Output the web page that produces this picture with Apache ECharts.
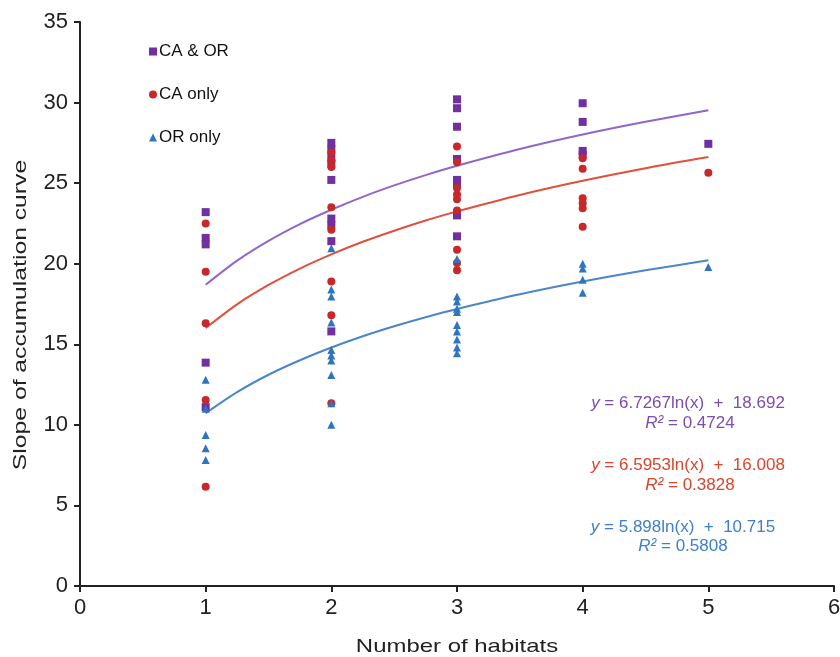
<!DOCTYPE html>
<html>
<head>
<meta charset="utf-8">
<script src="https://cdn.jsdelivr.net/npm/echarts@6/dist/echarts.min.js"></script>
<style>
  html, body { margin: 0; padding: 0; background: #fff; }
  #chart { width: 840px; height: 657px; }
</style>
</head>
<body>
<div id="chart"></div>
<script>
// scatter points, [habitats, slope]
const caOr = [
  [1, 23.2], [1, 21.6], [1, 21.2], [1, 13.86], [1, 11.1],
  [2, 27.5], [2, 27.1], [2, 26.6], [2, 26.2], [2, 25.2], [2, 22.8], [2, 22.4], [2, 21.4], [2, 15.8],
  [3, 30.2], [3, 29.65], [3, 28.5], [3, 26.5], [3, 25.2], [3, 24.9], [3, 23.0], [3, 21.7],
  [4, 29.96], [4, 28.8], [4, 27.0], [4, 26.75],
  [5, 27.44]
]
const caOnly = [
  [1, 22.5], [1, 19.5], [1, 16.3], [1, 11.55], [1, 6.16],
  [2, 26.9], [2, 26.4], [2, 26.0], [2, 23.5], [2, 22.1], [2, 18.9], [2, 16.8], [2, 11.34],
  [3, 27.27], [3, 26.3], [3, 24.7], [3, 24.3], [3, 24.0], [3, 23.3], [3, 20.86], [3, 20.05], [3, 19.6],
  [4, 26.55], [4, 25.9], [4, 24.07], [4, 23.75], [4, 23.44], [4, 22.3],
  [5, 25.65]
]
const orOnly = [
  [1, 12.8], [1, 11.0], [1, 9.37], [1, 8.55], [1, 7.82],
  [2, 20.96], [2, 18.4], [2, 17.96], [2, 16.35], [2, 14.65], [2, 14.3], [2, 14.0], [2, 13.1], [2, 11.34], [2, 10.0],
  [3, 20.3], [3, 17.96], [3, 17.65], [3, 17.2], [3, 17.0], [3, 16.2], [3, 15.8], [3, 15.3], [3, 14.8], [3, 14.45],
  [4, 20.0], [4, 19.7], [4, 19.0], [4, 18.2],
  [5, 19.8]
]

// trend curves
const trendX = [1, 1.25, 1.5, 1.75, 2, 2.25, 2.5, 2.75, 3, 3.5, 4, 4.5, 5]
const trendCaOr = [18.69, 20.19, 21.42, 22.46, 23.35, 24.15, 24.86, 25.50, 26.08, 27.12, 28.02, 28.81, 29.52]
const trendCaOnly = [16.01, 17.48, 18.68, 19.70, 20.58, 21.36, 22.05, 22.68, 23.25, 24.27, 25.15, 25.93, 26.62]
const trendOrOnly = [10.72, 12.03, 13.11, 14.01, 14.80, 15.50, 16.12, 16.68, 17.19, 18.10, 18.89, 19.59, 20.21]

const equations = [
  { eq: ' = 6.7267ln(x)  +  18.692', r2: ' = 0.4724', color: '#7b4db3' },
  { eq: ' = 6.5953ln(x)  +  16.008', r2: ' = 0.3828', color: '#d9452f' },
  { eq: ' = 5.898ln(x)  +  10.715', r2: ' = 0.5808', color: '#3f80cc' }
]

const xTitle = 'Number of habitats'
const yTitle = 'Slope of accumulation curve'

const font = 'Liberation Sans, Arial, sans-serif'
const chart = echarts.init(document.getElementById('chart'))

function trend(ys) {
  return trendX.map((x, i) => [x, ys[i]])
}

function line(label, rest, color, cx, cy) {
  return {
    type: 'text',
    x: cx,
    y: cy,
    style: {
      text: '{i|' + label + '}{n|' + rest + '}',
      align: 'center',
      verticalAlign: 'middle',
      rich: {
        i: { fontStyle: 'italic', fontSize: 17, fontFamily: font, fill: color },
        n: { fontSize: 17, fontFamily: font, fill: color }
      }
    }
  }
}

const eqGraphics = []
const eqCenters = [[688, 403, 690, 423], [688, 465, 690, 485], [683, 527, 683, 546]]
equations.forEach((item, k) => {
  const c = eqCenters[k]
  eqGraphics.push(line('y', item.eq, item.color, c[0], c[1]))
  eqGraphics.push(line('R²', item.r2, item.color, c[2], c[3]))
})

// axis titles are drawn wide in the original, so stretch them along the text
eqGraphics.push({
  type: 'text', x: 457, y: 647, scaleX: 1.26,
  style: { text: xTitle, fontSize: 19, fontFamily: font, fill: '#222', align: 'center', verticalAlign: 'middle' }
})
eqGraphics.push({
  type: 'text', x: 21, y: 315, rotation: Math.PI / 2, scaleX: 1.3,
  style: { text: yTitle, fontSize: 19, fontFamily: font, fill: '#222', align: 'center', verticalAlign: 'middle' }
})

chart.setOption({
  animation: false,
  grid: { left: 80, right: 6, top: 22, bottom: 71, outerBoundsMode: 'none' },
  legend: {
    data: ['CA & OR', 'CA only', 'OR only'],
    orient: 'vertical',
    left: 144,
    top: 38,
    itemGap: 26,
    itemWidth: 8,
    itemHeight: 8,
    textStyle: { fontSize: 17, fontFamily: font, color: '#111', padding: [0, 0, 0, -3] }
  },
  xAxis: {
    type: 'value',
    min: 0,
    max: 6,
    interval: 1,
    axisLine: { lineStyle: { color: '#222', width: 2 } },
    axisTick: { lineStyle: { color: '#222', width: 2 }, length: 6 },
    axisLabel: { fontSize: 22, fontFamily: font, color: '#222', margin: 11 },
    splitLine: { show: false }
  },
  yAxis: {
    type: 'value',
    min: 0,
    max: 35,
    interval: 5,
    axisLine: { show: true, lineStyle: { color: '#222', width: 2 } },
    axisTick: { show: true, lineStyle: { color: '#222', width: 2 }, length: 6 },
    axisLabel: { fontSize: 22, fontFamily: font, color: '#222', margin: 12 },
    splitLine: { show: false }
  },
  graphic: eqGraphics,
  series: [
    {
      name: 'trend CA & OR', type: 'line', data: trend(trendCaOr), smooth: 0.3,
      showSymbol: false, lineStyle: { color: '#9166cc', width: 2 }, z: 1
    },
    {
      name: 'trend CA only', type: 'line', data: trend(trendCaOnly), smooth: 0.3,
      showSymbol: false, lineStyle: { color: '#e0503c', width: 2 }, z: 1
    },
    {
      name: 'trend OR only', type: 'line', data: trend(trendOrOnly), smooth: 0.3,
      showSymbol: false, lineStyle: { color: '#4a86c8', width: 2 }, z: 1
    },
    {
      name: 'CA & OR', type: 'scatter', data: caOr, symbol: 'rect', symbolSize: 8,
      itemStyle: { color: '#7030a0', opacity: 1 }
    },
    {
      name: 'CA only', type: 'scatter', data: caOnly, symbol: 'circle', symbolSize: 8,
      itemStyle: { color: '#c8282a', opacity: 1 }
    },
    {
      name: 'OR only', type: 'scatter', data: orOnly, symbol: 'triangle', symbolSize: 8,
      itemStyle: { color: '#2e75c0', opacity: 1 }
    }
  ]
})
</script>
</body>
</html>
